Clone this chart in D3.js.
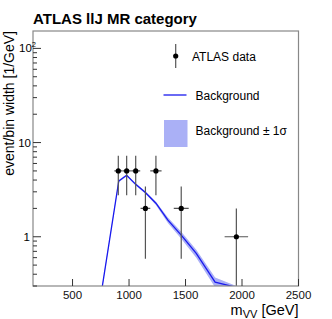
<!DOCTYPE html>
<html><head><meta charset="utf-8">
<script src="https://cdn.jsdelivr.net/npm/d3@7"></script>
<style>body{margin:0;background:#fff}svg{display:block}text{font-family:"Liberation Sans",Arial,sans-serif}</style>
</head><body><svg id="c" width="332" height="319"></svg>
<script>
const dataX = [905, 979, 1059, 1145, 1238, 1462, 1950];
const dataXErr = [35, 37, 40, 43, 50, 66, 104];
const dataY = [5, 5, 5, 2, 5, 2, 1];
const bgX = [760, 909, 979, 1059, 1145, 1238, 1344, 1462, 1595, 1762, 1950];
const bgY = [0.28, 3.9, 4.5, 3.6, 2.95, 2.27, 1.5, 1.04, 0.665, 0.33, 0.29];
const bgHi = [0.29, 4.0, 4.62, 3.7, 3.03, 2.36, 1.6, 1.13, 0.73, 0.37, 0.30];
const bgLo = [0.27, 3.8, 4.38, 3.5, 2.87, 2.18, 1.4, 0.95, 0.60, 0.29, 0.28];
const xTicks = [500, 1000, 1500, 2000, 2500];
const yMajor = [1, 10, 100];

const svg = d3.select("#c");
const L = 33, R = 298.5, T = 31, B = 286;
const x = d3.scaleLinear().domain([150, 2500]).range([L, R]);
const y = d3.scaleLog().domain([0.3, 153]).range([B, T]);

svg.append("defs").append("clipPath").attr("id", "clip")
  .append("rect").attr("x", L).attr("y", T).attr("width", R - L).attr("height", B - T);
const g = svg.append("g").attr("clip-path", "url(#clip)");

// band
const idx = d3.range(bgX.length);
g.append("path").datum(idx)
  .attr("d", d3.area().x(i => x(bgX[i])).y0(i => y(bgLo[i])).y1(i => y(bgHi[i])))
  .attr("fill", "#aab0f6").attr("stroke", "none");
g.append("path").datum(idx)
  .attr("d", d3.line().x(i => x(bgX[i])).y(i => y(bgY[i])))
  .attr("fill", "none").attr("stroke", "#1a1aee").attr("stroke-width", 1.3);

// data
const di = d3.range(dataX.length);
const eb = g.append("g").attr("stroke", "#555").attr("stroke-width", 1.2);
di.forEach(i => {
  const v = dataY[i], e = Math.sqrt(v);
  const lo = v - e > 0.01 ? y(v - e) : B + 5;
  eb.append("line").attr("x1", x(dataX[i])).attr("x2", x(dataX[i]))
    .attr("y1", y(v + e)).attr("y2", lo);
  eb.append("line").attr("x1", x(dataX[i] - dataXErr[i])).attr("x2", x(dataX[i] + dataXErr[i]))
    .attr("y1", y(v)).attr("y2", y(v));
});
g.selectAll("circle.d").data(di).enter().append("circle")
  .attr("cx", i => x(dataX[i])).attr("cy", i => y(dataY[i])).attr("r", 2.6).attr("fill", "#000");

// frame
svg.append("rect").attr("x", L).attr("y", T).attr("width", R - L).attr("height", B - T)
  .attr("fill", "none").attr("stroke", "#888").attr("stroke-width", 1.2);

// x ticks
const xa = svg.append("g");
xTicks.forEach(t => {
  xa.append("line").attr("x1", x(t)).attr("x2", x(t)).attr("y1", B).attr("y2", B - 7)
    .attr("stroke", "#333").attr("stroke-width", 1);
  xa.append("text").attr("x", x(t)).attr("y", 299).attr("text-anchor", "middle")
    .attr("font-size", 11.5).attr("fill", "#111").text(t);
});
// y ticks
const ya = svg.append("g");
const minors = [];
[0.1, 1, 10, 100].forEach(d => { for (let k = 2; k <= 9; k++) { const v = d * k; if (v >= 0.3 && v <= 153) minors.push(v); } });
minors.forEach(v => ya.append("line").attr("x1", L).attr("x2", L + 4).attr("y1", y(v)).attr("y2", y(v))
  .attr("stroke", "#333").attr("stroke-width", 1));
yMajor.forEach(v => ya.append("line").attr("x1", L).attr("x2", L + 8).attr("y1", y(v)).attr("y2", y(v))
  .attr("stroke", "#333").attr("stroke-width", 1));
ya.append("text").attr("x", 30).attr("y", y(1) + 4).attr("text-anchor", "end").attr("font-size", 11.5).text("1");
ya.append("text").attr("x", 31).attr("y", y(10) + 4).attr("text-anchor", "end").attr("font-size", 11.5).text("10");
const t2 = ya.append("text").attr("x", 19).attr("y", y(100) + 4).attr("font-size", 11.5);
t2.append("tspan").text("10");
t2.append("tspan").attr("font-size", 7.5).attr("dy", -5).text("2");

// axis titles
svg.append("text").attr("transform", `translate(14,${T}) rotate(-90)`).attr("text-anchor", "end")
  .attr("font-size", 14).text("event/bin width [1/GeV]");
const xt = svg.append("text").attr("x", R).attr("y", 315).attr("text-anchor", "end").attr("font-size", 14.5);
xt.append("tspan").text("m");
xt.append("tspan").attr("font-size", 11).attr("dy", 3).text("VV");
xt.append("tspan").attr("dy", -3).text(" [GeV]");

// title
svg.append("text").attr("x", 33).attr("y", 24).attr("font-size", 15).attr("font-weight", "bold").text("ATLAS llJ MR category");

// legend
const lg = svg.append("g");
lg.append("line").attr("x1", 175.7).attr("x2", 175.7).attr("y1", 44).attr("y2", 68).attr("stroke", "#555").attr("stroke-width", 1.2);
lg.append("circle").attr("cx", 175.7).attr("cy", 56).attr("r", 2.6).attr("fill", "#000");
lg.append("text").attr("x", 192).attr("y", 61).attr("font-size", 12).text("ATLAS data");
lg.append("line").attr("x1", 163.5).attr("x2", 186.5).attr("y1", 95).attr("y2", 95).attr("stroke", "#1a1aee").attr("stroke-width", 1.3);
lg.append("text").attr("x", 195.5).attr("y", 99.5).attr("font-size", 12).text("Background");
lg.append("rect").attr("x", 164).attr("y", 120).attr("width", 23.5).attr("height", 27).attr("fill", "#aab0f6");
lg.append("text").attr("x", 195.5).attr("y", 134.5).attr("font-size", 12).text("Background ± 1σ");
</script></body></html>
